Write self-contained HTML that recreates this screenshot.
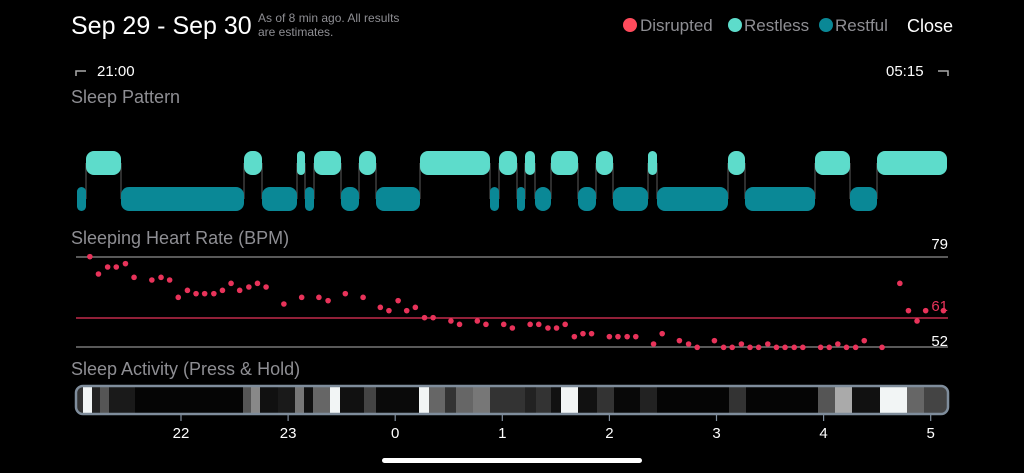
<!DOCTYPE html>
<html><head><meta charset="utf-8"><style>
html,body{margin:0;padding:0;background:#000;width:1024px;height:473px;overflow:hidden}
svg{display:block}
text{font-family:"Liberation Sans",sans-serif}
</style></head><body>
<svg id="s" width="1024" height="473" viewBox="0 0 1024 473" xmlns="http://www.w3.org/2000/svg">
<text x="71" y="34" fill="#fff" font-size="25">Sep 29 - Sep 30</text>
<text x="258" y="22" fill="#8e8e93" font-size="12">As of 8 min ago. All results</text>
<text x="258" y="36" fill="#8e8e93" font-size="12">are estimates.</text>
<circle cx="630" cy="25" r="7" fill="#ff4b5c"/><text x="640" y="31" fill="#8e8e93" font-size="17">Disrupted</text>
<circle cx="735" cy="25" r="7" fill="#5ddccb"/><text x="744" y="31" fill="#8e8e93" font-size="17">Restless</text>
<circle cx="826" cy="25" r="7" fill="#0a8896"/><text x="835" y="31" fill="#8e8e93" font-size="17">Restful</text>
<text x="907" y="32" fill="#fff" font-size="18">Close</text>
<path d="M76 76 V71 H86" stroke="#aaa" stroke-width="1.5" fill="none"/>
<text x="97" y="76" fill="#fff" font-size="15">21:00</text>
<text x="886" y="76" fill="#fff" font-size="15">05:15</text>
<path d="M938 71 H948 V76" stroke="#aaa" stroke-width="1.5" fill="none"/>
<text x="71" y="103" fill="#8e8e93" font-size="18">Sleep Pattern</text>
<g id="pat"></g>
<text x="71" y="244" fill="#8e8e93" font-size="18">Sleeping Heart Rate (BPM)</text>
<text x="948" y="249" fill="#fff" font-size="15" text-anchor="end">79</text>
<line x1="76" y1="257" x2="948" y2="257" stroke="#777" stroke-width="1.5"/>
<line x1="76" y1="318" x2="948" y2="318" stroke="#e8335a" stroke-width="1.2"/>
<text x="948" y="311" fill="#e8335a" font-size="15" text-anchor="end">61</text>
<line x1="76" y1="347" x2="948" y2="347" stroke="#777" stroke-width="1.5"/>
<text x="948" y="346" fill="#fff" font-size="15" text-anchor="end">52</text>
<g id="hr"></g>
<text x="71" y="375" fill="#8e8e93" font-size="18">Sleep Activity (Press &amp; Hold)</text>
<defs><clipPath id="bc"><rect x="77" y="386" width="870" height="28" rx="6"/></clipPath></defs>
<g id="act" clip-path="url(#bc)"></g>
<rect x="76" y="386" width="872" height="28" rx="7" fill="none" stroke="#7f8d9c" stroke-width="2.5"/>
<g id="ax"></g>
<rect x="382" y="458" width="260" height="5" rx="2.5" fill="#fff"/>
</svg>
<script>
const NS="http://www.w3.org/2000/svg";
function el(p,t,a){const e=document.createElementNS(NS,t);for(const k in a)e.setAttribute(k,a[k]);p.appendChild(e);return e;}
const pat=document.getElementById('pat');
const rl=[[86,121],[244,262],[297,305],[314,341],[359,376],[420,490],[499,517],[525,535],[551,578],[596,613],[648,657],[728,745],[815,850],[877,947]];
const rf=[[77,86],[121,244],[262,297],[305,314],[341,359],[376,420],[490,499],[517,525],[535,551],[578,596],[613,648],[657,728],[745,815],[850,877]];
[...rl,...rf].forEach(s=>{[s[0],s[1]].forEach(x=>{if(x>77&&x<947)el(pat,'line',{x1:x,y1:163,x2:x,y2:199,stroke:'#444','stroke-width':1.2});});});
rl.forEach(s=>{const w=s[1]-s[0];el(pat,'rect',{x:s[0],y:151,width:w,height:24,rx:Math.min(8,w/2),fill:'#5ddccb'});});
rf.forEach(s=>{const w=s[1]-s[0];el(pat,'rect',{x:s[0],y:187,width:w,height:24,rx:Math.min(8,w/2),fill:'#0a8896'});});
const pts=[[52,95],[67,147],[83,126],[98,126],[114,116],[129,157],[160,165],[176,157],[191,165],[206,217],[222,196],[237,206],[252,206],[268,206],[283,196],[298,175],[313,196],[329,186],[344,175],[359,186],[390,237],[421,217],[451,217],[467,227],[497,206],[528,217],[558,247],[573,257],[589,227],[604,257],[619,247],[635,278],[650,278],[681,288],[696,298],[727,288],[742,298],[773,298],[788,309],[819,298],[834,298],[850,309],[865,309],[880,298],[896,335],[911,326],[926,326],[957,335],[972,335],[988,335],[1003,335],[1034,357],[1049,326],[1079,347],[1095,357],[1110,367],[1140,347],[1156,367],[1171,367],[1187,357],[1202,367],[1217,367],[1233,357],[1248,367],[1263,367],[1279,367],[1294,367],[1325,367],[1340,367],[1355,357],[1370,367],[1386,367],[1401,347],[1432,367],[1463,175],[1478,257],[1493,288],[1508,257],[1539,257]];
const hr=document.getElementById('hr');
pts.forEach(p=>el(hr,'circle',{cx:60+p[0]/1.742,cy:225+p[1]/3,r:2.8,fill:'#e8335a'}));
const st=[[77,83,'#333'],[83,92,'#f2f5f5'],[92,100,'#222'],[100,109,'#555'],[109,135,'#1a1a1a'],[135,243,'#050505'],[243,251,'#555'],[251,260,'#888'],[260,278,'#111'],[278,295,'#1a1a1a'],[295,304,'#777'],[304,313,'#111'],[313,330,'#666'],[330,340,'#f2f5f5'],[340,364,'#111'],[364,376,'#444'],[376,419,'#0a0a0a'],[419,429,'#f2f5f5'],[429,445,'#666'],[445,456,'#333'],[456,473,'#666'],[473,490,'#777'],[490,525,'#333'],[525,536,'#222'],[536,551,'#333'],[551,561,'#111'],[561,578,'#f2f5f5'],[578,597,'#111'],[597,614,'#333'],[614,640,'#080808'],[640,657,'#222'],[657,729,'#050505'],[729,746,'#333'],[746,818,'#050505'],[818,835,'#555'],[835,852,'#aaa'],[852,880,'#111'],[880,907,'#f2f5f5'],[907,924,'#666'],[924,948,'#444']];
const act=document.getElementById('act');
st.forEach(s=>el(act,'rect',{x:s[0],y:386,width:s[1]-s[0],height:28,fill:s[2]}));
const ax=document.getElementById('ax');
const lab=['22','23','0','1','2','3','4','5'];
lab.forEach((l,i)=>{const x=181+i*107.1;el(ax,'line',{x1:x,y1:415,x2:x,y2:421,stroke:'#7f8d9c','stroke-width':1.2});const t=el(ax,'text',{x:x,y:438,fill:'#fff','font-size':15,'text-anchor':'middle'});t.textContent=l;});
</script>
</body></html>
